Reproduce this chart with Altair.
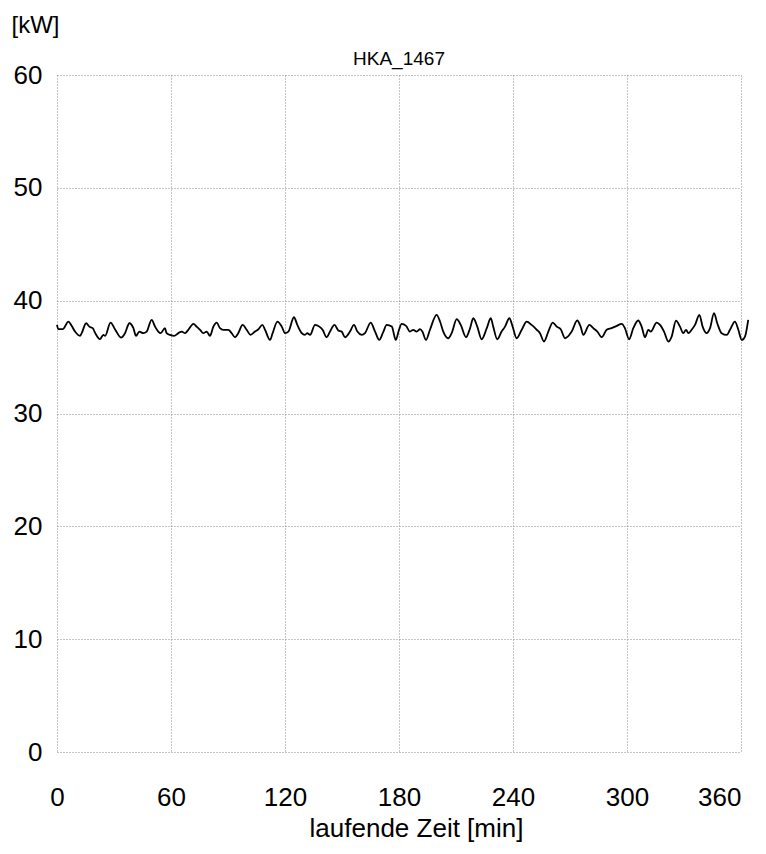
import altair as alt
import pandas as pd

minutes = [0, 0.7, 3.0, 6.0, 7.7, 9.5, 12.1, 13.0, 15.3, 17.0, 18.8, 20.0, 22.6, 24.4, 25.3,
           28.2, 30.5, 33.7, 35.8, 38.1, 40.2, 41.6, 43.3, 45.4, 47.2, 49.8, 51.6, 53.3, 54.6,
           56.8, 57.7, 59.5, 61.6, 63.9, 65.6, 67.4, 69.1, 71.8, 73.5, 75.3, 77.0, 78.8, 80.5,
           82.3, 84.0, 85.8, 87.5, 90.2, 91.9, 93.7, 95.4, 97.7, 99.8, 101.9, 104.2, 106.0,
           108.1, 109.5, 112.1, 113.5, 116.0, 118.3, 120.0, 121.8, 124.7, 126.5, 128.8, 130.5,
           131.7, 133.2, 135.8, 138.1, 139.8, 141.9, 143.7, 146.0, 148.1, 149.8, 151.6, 154.2,
           156.3, 158.1, 160.4, 162.1, 165.1, 167.4, 169.6, 171.8, 173.5, 176.2, 178.3, 180.0,
           181.4, 183.7, 185.8, 187.5, 189.3, 191.1, 192.3, 194.2, 196.3, 199.8, 201.6, 203.3,
           205.9, 207.7, 210.4, 212.5, 215.3, 217.4, 219.1, 221.2, 223.5, 226.2, 228.3, 229.6,
           231.7, 234.0, 235.8, 238.1, 239.8, 241.9, 244.6, 247.2, 249.8, 252.5, 254.2, 256.3,
           258.6, 260.9, 263.0, 265.1, 267.4, 270.9, 273.8, 275.6, 277.0, 280.2, 282.3, 284.4,
           286.7, 289.3, 291.9, 294.6, 297.2, 298.9, 301.1, 303.3, 305.9, 307.7, 309.5, 311.2,
           312.5, 315.6, 317.4, 319.5, 321.8, 323.5, 325.8, 327.9, 329.6, 331.1, 332.3, 334.0,
           335.8, 338.1, 339.8, 341.9, 343.7, 345.8, 347.5, 349.8, 352.5, 354.2, 356.8, 358.6,
           360.4, 362.1, 363.8]

kw = [37.85, 37.47, 37.47, 38.15, 37.77, 37.26, 36.88, 37.12, 38.00, 37.70, 37.56, 37.17, 36.59,
      36.97, 36.88, 38.06, 37.47, 36.73, 37.12, 38.00, 37.56, 36.88, 37.26, 37.12, 37.26, 38.30,
      37.70, 37.26, 37.12, 37.56, 37.12, 36.97, 36.88, 37.12, 37.26, 37.12, 37.42, 37.94, 37.70,
      37.42, 37.12, 37.26, 36.88, 37.70, 38.06, 37.56, 37.42, 37.42, 37.12, 36.76, 37.12, 37.85,
      37.42, 36.97, 37.26, 37.47, 37.85, 37.42, 36.52, 37.12, 38.15, 37.70, 37.12, 37.26, 38.53,
      37.85, 37.12, 36.97, 37.12, 36.97, 37.85, 37.70, 37.42, 36.76, 37.26, 37.85, 37.36, 37.26,
      36.76, 37.26, 37.85, 37.26, 36.97, 37.12, 38.06, 37.26, 36.52, 37.26, 37.85, 37.70, 36.52,
      37.42, 37.94, 37.77, 37.26, 37.42, 37.26, 37.47, 37.26, 36.52, 37.42, 38.74, 38.15, 37.26,
      36.67, 37.12, 38.36, 37.85, 36.76, 37.56, 38.44, 37.70, 36.58, 37.56, 38.44, 37.70, 36.58,
      37.26, 37.70, 38.44, 37.70, 36.67, 37.42, 38.15, 37.85, 37.42, 37.12, 36.38, 37.26, 38.06,
      37.70, 37.47, 36.67, 37.26, 38.24, 37.70, 36.97, 37.85, 37.56, 37.26, 36.76, 37.42, 37.56,
      37.77, 37.94, 37.56, 36.58, 37.56, 38.24, 37.70, 36.76, 37.42, 37.26, 38.06, 37.85, 37.26,
      36.38, 36.82, 38.24, 37.70, 37.12, 37.42, 37.12, 37.42, 37.85, 38.74, 37.70, 37.12, 37.56,
      38.89, 38.00, 37.12, 36.97, 37.42, 38.15, 37.42, 36.52, 36.82, 38.30]

x_ticks = [0, 60, 120, 180, 240, 300, 360]
y_ticks = [0, 10, 20, 30, 40, 50, 60]

df = pd.DataFrame({"t": minutes, "p": kw})

FONT = "Liberation Sans"

chart = alt.Chart(df).mark_line(color="black", strokeWidth=1.8, clip=False,
                                interpolate="monotone").encode(
    x=alt.X("t:Q",
            scale=alt.Scale(domain=[0, 360], nice=False, zero=False),
            axis=alt.Axis(values=x_ticks, title="laufende Zeit [min]", grid=True,
                          domain=False, ticks=False, labelFontSize=26, labelFont=FONT,
                          labelPadding=32, labelColor="black", labelFlush=False,
                          labelAlign={"condition": {"test": "datum.value === 360",
                                                    "value": "right"},
                                      "value": "center"},
                          titleFontSize=26,
                          titleFont=FONT, titleFontWeight="normal", titleColor="black",
                          titleY=63, titleX=359, titleAlign="center", titleBaseline="top",
                          gridColor="#8a8a8a", gridDash=[1, 2], gridWidth=1)),
    y=alt.Y("p:Q",
            scale=alt.Scale(domain=[0, 60], nice=False),
            axis=alt.Axis(values=y_ticks, title="[kW]", grid=True, domain=False, ticks=False,
                          labelFontSize=26, labelFont=FONT, labelPadding=15,
                          labelColor="black", titleFontSize=24, titleFont=FONT,
                          titleFontWeight="normal", titleColor="black", titleAngle=0,
                          titleX=-46, titleY=-50, titleAlign="left",
                          titleBaseline="middle",
                          gridColor="#8a8a8a", gridDash=[1, 2], gridWidth=1)),
).properties(
    width=684,
    height=677,
    title=alt.TitleParams("HKA_1467", fontSize=19, font=FONT, fontWeight="normal",
                          color="black", offset=6, dy=62),
    autosize=alt.AutoSizeParams(type="none"),
    padding={"left": 49, "top": 67, "right": 17, "bottom": 98},
).configure_view(stroke=None)

chart.save("out.html", embed_options={"renderer": "svg", "actions": False})
